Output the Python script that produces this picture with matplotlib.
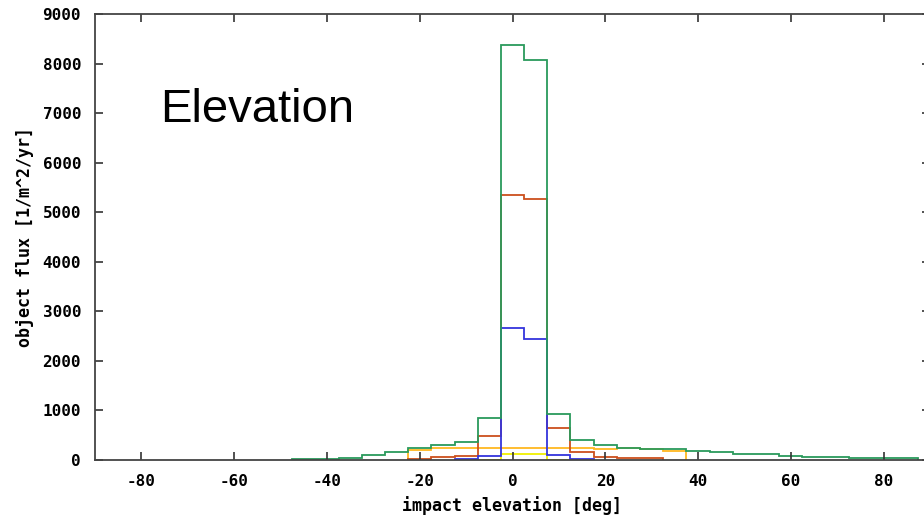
import matplotlib
matplotlib.use('Agg')
import matplotlib.pyplot as plt
import numpy as np

# 直方图数据（每个 bin 宽 5 度，按中心值给出）
green_centers = [-45, -40, -35, -30, -25, -20, -15, -10, -5, 0, 5, 10, 15, 20, 25, 30, 35, 40, 45, 50, 55, 60, 65, 70, 75, 80, 85]
green_flux = [18, 18, 47, 95, 155, 242, 303, 363, 845, 8370, 8070, 934, 397, 302, 248, 212, 212, 182, 155, 121, 121, 87, 60, 60, 33, 33, 33]

orange_centers = [-20, -15, -10, -5, 0, 5, 10, 15, 20, 25, 30]
orange_flux = [20, 54, 87, 484, 5350, 5260, 640, 155, 67, 33, 33]

blue_centers = [-10, -5, 0, 5, 10, 15]
blue_flux = [20, 90, 2657, 2450, 95, 20]

gold_centers = [-20, -15, -10, -5, 0, 5, 10, 15, 20, 25, 30, 35]
gold_flux = [202, 245, 245, 245, 245, 245, 245, 245, 215, 240, 212, 180]

yellow_centers = [-5, 0, 5, 10]
yellow_flux = [10, 121, 121, 10]

xticks = [-80, -60, -40, -20, 0, 20, 40, 60, 80]
yticks = [0, 1000, 2000, 3000, 4000, 5000, 6000, 7000, 8000, 9000]


def edges(centers, width=5):
    c = np.asarray(centers, dtype=float)
    return np.append(c - width / 2, c[-1] + width / 2)


fig = plt.figure(figsize=(9.24, 5.2), dpi=100)
# 右边框在图片外面（原图被裁掉了）
ax = fig.add_axes([95 / 924, 60 / 520, 835 / 924, 446 / 520])

# 绿色画在最上面
series = [
    (gold_centers, gold_flux, '#ffb820'),
    (yellow_centers, yellow_flux, '#f0f000'),
    (orange_centers, orange_flux, '#cc4f1c'),
    (blue_centers, blue_flux, '#3434dc'),
    (green_centers, green_flux, '#2a9a5c'),
]
for c, v, col in series:
    ax.stairs(v, edges(c), baseline=0, fill=False, color=col, lw=1.3)

ax.set_xlim(-90, 90)
ax.set_ylim(0, 9000)
ax.set_xticks(xticks)
ax.set_yticks(yticks)

mono = {'family': 'DejaVu Sans Mono', 'weight': 'bold', 'size': 11.5}
ax.set_xticklabels([str(t) for t in xticks], fontdict=mono)
ax.set_yticklabels([str(t) for t in yticks], fontdict=mono)
ax.tick_params(direction='in', length=6, width=1.2, color='#333333',
               top=True, right=True, pad=10)
for s in ax.spines.values():
    s.set_color('#444444')
    s.set_linewidth(1.3)

lab = dict(mono, size=12)
ax.set_xlabel('impact elevation [deg]', fontdict=lab, labelpad=5)
ax.set_ylabel('object flux [1/m^2/yr]', fontdict=lab, labelpad=6)

fig.text(160 / 924, 1 - 122 / 520, 'Elevation', family='Liberation Sans',
         fontsize=34, va='baseline', ha='left')

plt.savefig('out.png', dpi=100)
plt.close()
